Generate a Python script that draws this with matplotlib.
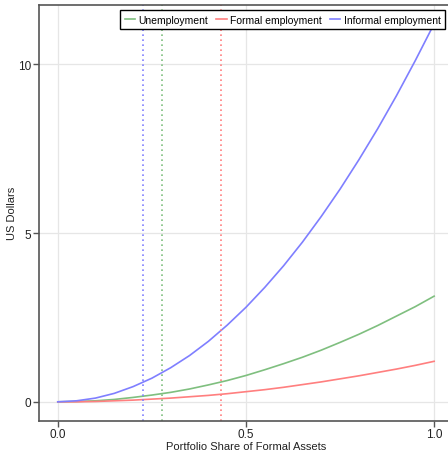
import matplotlib
matplotlib.use("Agg")
import matplotlib.pyplot as plt

plt.rcParams['font.family'] = ['Liberation Sans', 'DejaVu Sans']

# portfolio share grid and values
share = [0.0, 0.05, 0.10, 0.15, 0.20, 0.25, 0.30, 0.35, 0.40, 0.45, 0.50,
         0.55, 0.60, 0.65, 0.70, 0.75, 0.80, 0.85, 0.90, 0.95, 1.0]
unemployment = [0, 0.01, 0.03, 0.07, 0.13, 0.20, 0.28, 0.38, 0.50, 0.63, 0.78,
                0.95, 1.13, 1.32, 1.53, 1.76, 2.00, 2.26, 2.54, 2.82, 3.13]
formal = [0, 0.00, 0.01, 0.03, 0.05, 0.08, 0.11, 0.15, 0.19, 0.24, 0.30,
          0.36, 0.43, 0.51, 0.59, 0.68, 0.77, 0.87, 0.97, 1.08, 1.20]
informal = [0, 0.03, 0.11, 0.25, 0.45, 0.70, 1.01, 1.37, 1.79, 2.27, 2.80,
            3.39, 4.03, 4.73, 5.49, 6.30, 7.17, 8.09, 9.07, 10.11, 11.20]

# optimal shares (dotted vertical lines)
opt_unemp = 0.278
opt_formal = 0.434
opt_informal = 0.226

c_green = '#7fbf7f'
c_red = '#ff7f7f'
c_blue = '#7f7fff'

fig = plt.figure(figsize=(4.48, 4.52), dpi=100)
ax = fig.add_axes([0.087, 0.067, 0.924, 0.92])

ax.plot(share, unemployment, color=c_green, lw=1.2, label='Unemployment')
ax.plot(share, formal, color=c_red, lw=1.2, label='Formal employment')
ax.plot(share, informal, color=c_blue, lw=1.2, label='Informal employment')

ax.axvline(opt_unemp, color=c_green, lw=1.2, ls=(0, (1, 2)))
ax.axvline(opt_formal, color=c_red, lw=1.2, ls=(0, (1, 2)))
ax.axvline(opt_informal, color=c_blue, lw=1.2, ls=(0, (1, 2)))

ax.set_xlim(-0.05, 1.05)
ax.set_ylim(-0.56, 11.76)
ax.set_xticks([0.0, 0.5, 1.0])
ax.set_xticklabels(['0.0', '0.5', '1.0'])
ax.set_yticks([0, 5, 10])

ax.grid(True, color='#e6e6e6', lw=0.9)
ax.set_axisbelow(True)
for s in ax.spines.values():
    s.set_color('#555555')
    s.set_linewidth(1.2)
ax.tick_params(direction='out', length=4, width=1, color='#555555',
               labelsize=8.5, labelcolor='#222222', pad=1.5)

ax.set_xlabel('Portfolio Share of Formal Assets', fontsize=8, color='#222222')
ax.set_ylabel('US Dollars', fontsize=8, color='#222222')
ax.xaxis.set_label_coords(0.5, -0.049)
ax.yaxis.set_label_coords(-0.052, 0.5)

leg = ax.legend(loc='upper right', bbox_to_anchor=(0.981, 0.988), ncol=3,
                fontsize=7.5, frameon=True, fancybox=False, framealpha=1,
                handlelength=1.0, handletextpad=0.3, columnspacing=0.8,
                borderpad=0.45, borderaxespad=0)
leg.get_frame().set_edgecolor('black')
leg.get_frame().set_linewidth(1)

fig.savefig('out.png', dpi=100)
